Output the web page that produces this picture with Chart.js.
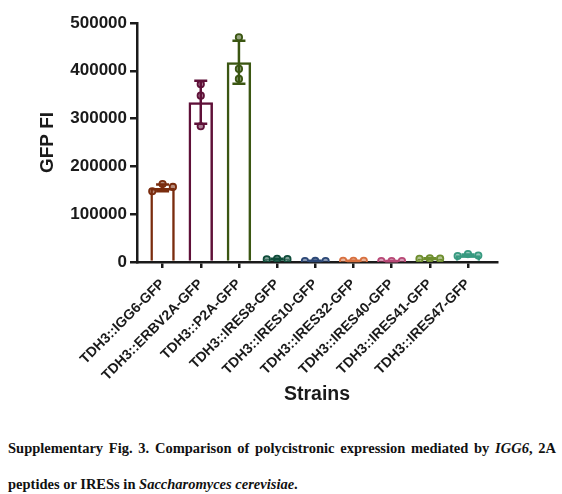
<!DOCTYPE html>
<html>
<head>
<meta charset="utf-8">
<script src="https://cdn.jsdelivr.net/npm/chart.js@4.4.1/dist/chart.umd.min.js"></script>
<style>
html, body { margin: 0; padding: 0; background: #fff; }
#wrap { position: relative; width: 562px; height: 494px; overflow: hidden; }
#chart { position: absolute; left: 0; top: 0; }
#caption {
    position: absolute; left: 8px; top: 430px; width: 548px;
    font: bold 14.5px 'Liberation Serif', 'Times New Roman', serif;
    line-height: 36px; text-align: justify; color: #111;
}
</style>
</head>
<body>
<div id="wrap">
    <canvas id="chart" width="562" height="425"></canvas>
    <div id="caption">Supplementary Fig. 3. Comparison of polycistronic expression mediated by <i>IGG6</i>, 2A peptides or IRESs in <i>Saccharomyces cerevisiae</i>.</div>
</div>
<script>
// values
const strains = [
    'TDH3::IGG6-GFP', 'TDH3::ERBV2A-GFP', 'TDH3::P2A-GFP',
    'TDH3::IRES8-GFP', 'TDH3::IRES10-GFP', 'TDH3::IRES32-GFP',
    'TDH3::IRES40-GFP', 'TDH3::IRES41-GFP', 'TDH3::IRES47-GFP'
];
const meanFI = [155000, 334000, 418000, 6000, 2200, 2500, 2000, 7000, 14000];
const sdFI = [7000, 45000, 45000, 800, 300, 300, 300, 800, 1800];
const replicates = [
    [148000, 163000, 157000],
    [372000, 348000, 284000],
    [470000, 404000, 383000],
    [5500, 6500, 6000],
    [2000, 2200, 2100],
    [2500, 2600, 2400],
    [2000, 1900, 2100],
    [6500, 7500, 7000],
    [12600, 16500, 13500]
];
const yTicks = [0, 100000, 200000, 300000, 400000, 500000];
const colors = ['#7a2c0e', '#5f1038', '#3b5612', '#0f4c3a', '#2c4877', '#d8703f', '#b84876', '#6e8e2e', '#389a80'];

const ink = '#1a1a1a';
const sans = "'Liberation Sans', Arial, sans-serif";

// points sit side by side when the replicates overlap, like Prism does
const pts = [];
const ptColors = [];
replicates.forEach((vals, i) => {
    const spread = Math.max(...vals) - Math.min(...vals) < 30000 ? 0.27 : 0;
    vals.forEach((v, k) => {
        pts.push({x: i + (k - 1) * spread, y: v});
        ptColors.push(colors[i]);
    });
});

const errorBars = {
    id: 'errorBars',
    afterDatasetDraw(chart, args) {
        if (args.index !== 0) return;
        const {ctx, scales: {x, y}} = chart;
        ctx.save();
        ctx.lineWidth = 2.5;
        meanFI.forEach((m, i) => {
            const px = x.getPixelForValue(i);
            const top = y.getPixelForValue(m + sdFI[i]);
            const bot = y.getPixelForValue(m - sdFI[i]);
            ctx.strokeStyle = colors[i];
            ctx.beginPath();
            ctx.moveTo(px, top); ctx.lineTo(px, bot);
            ctx.moveTo(px - 6.5, top); ctx.lineTo(px + 6.5, top);
            ctx.moveTo(px - 6.5, bot); ctx.lineTo(px + 6.5, bot);
            ctx.stroke();
        });
        ctx.restore();
    }
};

new Chart(document.getElementById('chart'), {
    type: 'bar',
    data: {
        datasets: [{
            type: 'bar',
            data: meanFI.map((m, i) => ({x: i, y: m})),
            borderColor: colors,
            backgroundColor: 'rgba(255,255,255,0)',
            borderWidth: 2.5,
            barPercentage: 0.64,
            categoryPercentage: 1,
            order: 2
        }, {
            type: 'scatter',
            data: pts,
            pointRadius: 3.2,
            pointBorderWidth: 1.8,
            pointBorderColor: ptColors,
            pointBackgroundColor: ptColors.map(c => c + '88'),
            order: 1
        }]
    },
    options: {
        responsive: false,
        animation: false,
        layout: {padding: {top: 23, right: 65, left: 0, bottom: 0}},
        plugins: {legend: {display: false}, tooltip: {enabled: false}},
        scales: {
            x: {
                type: 'linear',
                min: -0.67,
                max: 8.76,
                offset: false,
                afterBuildTicks: (scale) => { scale.ticks = strains.map((s, i) => ({value: i})); },
                afterFit: (scale) => { scale.height = 163; },
                ticks: {
                    callback: (v) => strains[v],
                    autoSkip: false,
                    minRotation: 45,
                    maxRotation: 45,
                    padding: 8,
                    color: ink,
                    font: {family: sans, size: 14, weight: 'bold'}
                },
                grid: {drawOnChartArea: false, drawTicks: true, tickLength: 6, lineWidth: 2.5, color: ink, offset: false},
                border: {display: true, color: ink, width: 2.5},
                title: {
                    display: true, text: 'Strains', color: ink,
                    font: {family: sans, size: 19.5, weight: 'bold'},
                    padding: {top: 0, bottom: 19}
                }
            },
            y: {
                min: 0,
                max: 500000,
                afterBuildTicks: (scale) => { scale.ticks = yTicks.map(v => ({value: v})); },
                afterFit: (scale) => { scale.width = 137; },
                ticks: {
                    callback: (v) => String(v),
                    padding: 3,
                    color: ink,
                    font: {family: sans, size: 17, weight: 'bold'}
                },
                grid: {drawOnChartArea: false, drawTicks: true, tickLength: 7, lineWidth: 2.5, color: ink},
                border: {display: true, color: ink, width: 2.5},
                title: {
                    display: true, text: 'GFP FI', color: ink,
                    font: {family: sans, size: 19, weight: 'bold'},
                    padding: {top: 36, bottom: 0}
                }
            }
        }
    },
    plugins: [errorBars]
});
</script>
</body>
</html>
